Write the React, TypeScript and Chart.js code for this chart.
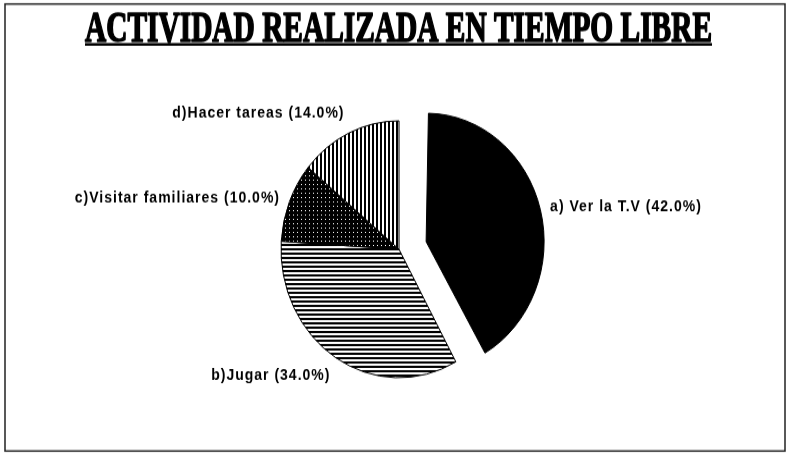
import React, { useEffect, useRef } from 'react';
import { Chart, registerables } from 'chart.js';

Chart.register(...registerables);

// ---- data ----
const TITLE = 'ACTIVIDAD REALIZADA EN TIEMPO LIBRE';
const categories = ['a) Ver la T.V', 'b)Jugar', 'c)Visitar familiares', 'd)Hacer tareas'];
const values = [42.0, 34.0, 10.0, 14.0];
const exploded = [true, false, false, false];

// ---- layout / style ----
const W = 789;
const H = 455;
const SY = 1.0885; // the scanned figure is slightly stretched vertically
const IH = Math.round(H / SY);
const RADIUS = 118;
const EXPLODE = 28;
const LABEL_GAP = 10;

function tile(kind: string): HTMLCanvasElement {
  const c = document.createElement('canvas');
  c.width = 4;
  c.height = 4;
  const g = c.getContext('2d') as CanvasRenderingContext2D;
  g.fillStyle = '#fff';
  g.fillRect(0, 0, 4, 4);
  g.fillStyle = '#000';
  if (kind === 'h') g.fillRect(0, 0, 4, 2);
  else if (kind === 'v') g.fillRect(0, 0, 2, 4);
  else if (kind === 'dots') {
    g.fillRect(0, 0, 4, 4);
    g.fillStyle = '#fff';
    g.fillRect(1, 1, 1, 1);
  }
  return c;
}

export default function App() {
  const ref = useRef<HTMLCanvasElement | null>(null);

  useEffect(() => {
    const canvas = ref.current;
    if (!canvas) return;
    const ctx0 = canvas.getContext('2d') as CanvasRenderingContext2D;
    const fills = [
      '#000000',
      ctx0.createPattern(tile('h'), 'repeat'),
      ctx0.createPattern(tile('dots'), 'repeat'),
      ctx0.createPattern(tile('v'), 'repeat'),
    ];

    const explodeFix = {
      id: 'explodeFix',
      afterDatasetUpdate(chart: any, args: any) {
        const meta = chart.getDatasetMeta(args.index);
        meta.data.forEach((arc: any, i: number) => {
          if (!exploded[i]) return;
          const fix = 1 - Math.sin(Math.min(Math.PI, arc.circumference));
          arc.outerRadius = meta.controller.outerRadius - EXPLODE * fix;
        });
      },
    };

    const frame = {
      id: 'frame',
      beforeDraw(chart: any) {
        const c = chart.ctx;
        c.save();
        c.fillStyle = '#fff';
        c.fillRect(0, 0, chart.width, chart.height);
        c.strokeStyle = '#222';
        c.lineWidth = 1.5;
        c.strokeRect(5, 4 / SY, 780, (451 - 4) / SY);
        c.restore();
      },
    };

    const texts = {
      id: 'texts',
      afterDraw(chart: any) {
        const c = chart.ctx;
        // title
        c.save();
        c.font = 'bold 40px "Liberation Serif", "Times New Roman", serif';
        c.fillStyle = '#000';
        c.strokeStyle = '#000';
        const natural = c.measureText(TITLE).width;
        const targetW = 627;
        const sx = targetW / natural;
        const cx = 398.5;
        const baseY = 41 / SY;
        c.translate(cx, baseY);
        c.scale(sx, 1);
        c.textAlign = 'center';
        c.textBaseline = 'alphabetic';
        c.lineWidth = 1.6;
        c.lineJoin = 'round';
        c.fillText(TITLE, 0, 0);
        c.strokeText(TITLE, 0, 0);
        c.restore();
        c.save();
        c.strokeStyle = '#000';
        c.lineWidth = 2.5;
        c.beginPath();
        c.moveTo(cx - targetW / 2, baseY + 3);
        c.lineTo(cx + targetW / 2, baseY + 3);
        c.stroke();
        c.restore();

        // slice labels
        const meta = chart.getDatasetMeta(0);
        const R = meta.controller.outerRadius;
        c.save();
        c.font = 'bold 14px "Liberation Sans", Arial, sans-serif';
        (c as any).letterSpacing = '1px';
        c.fillStyle = '#000';
        c.textBaseline = 'middle';
        meta.data.forEach((arc: any, i: number) => {
          const mid = (arc.startAngle + arc.endAngle) / 2;
          const vx = Math.cos(mid);
          const vy = Math.sin(mid);
          const shift = exploded[i] ? EXPLODE : 0;
          const d = R + shift + LABEL_GAP;
          const ax = arc.x + vx * d;
          let ay = arc.y + vy * d;
          if (Math.abs(vy) > 0.7) ay += vy * 10;
          c.textAlign = vx >= 0 ? 'left' : 'right';
          const txt = `${categories[i]} (${values[i].toFixed(1)}%)`;
          c.fillText(txt, ax, ay);
        });
        c.restore();
      },
    };

    const chart = new Chart(canvas, {
      type: 'pie',
      data: {
        labels: categories,
        datasets: [
          {
            data: values,
            backgroundColor: fills as any,
            borderColor: '#000',
            borderWidth: 1,
            offset: exploded.map((e) => (e ? EXPLODE * 4 : 0)),
            radius: RADIUS,
          } as any,
        ],
      },
      options: {
        responsive: false,
        animation: false,
        events: [],
        layout: { padding: { left: 9, right: 0, top: 40, bottom: 0 } },
        plugins: {
          legend: { display: false },
          tooltip: { enabled: false },
          title: { display: false },
        },
      },
      plugins: [explodeFix, frame, texts],
    });

    return () => chart.destroy();
  }, []);

  return (
    <div style={{ position: 'absolute', left: 0, top: 0, width: W, height: H, background: '#fff' }}>
      <canvas
        ref={ref}
        width={W}
        height={IH}
        style={{ width: `${W}px`, height: `${H}px`, display: 'block' }}
      />
    </div>
  );
}
